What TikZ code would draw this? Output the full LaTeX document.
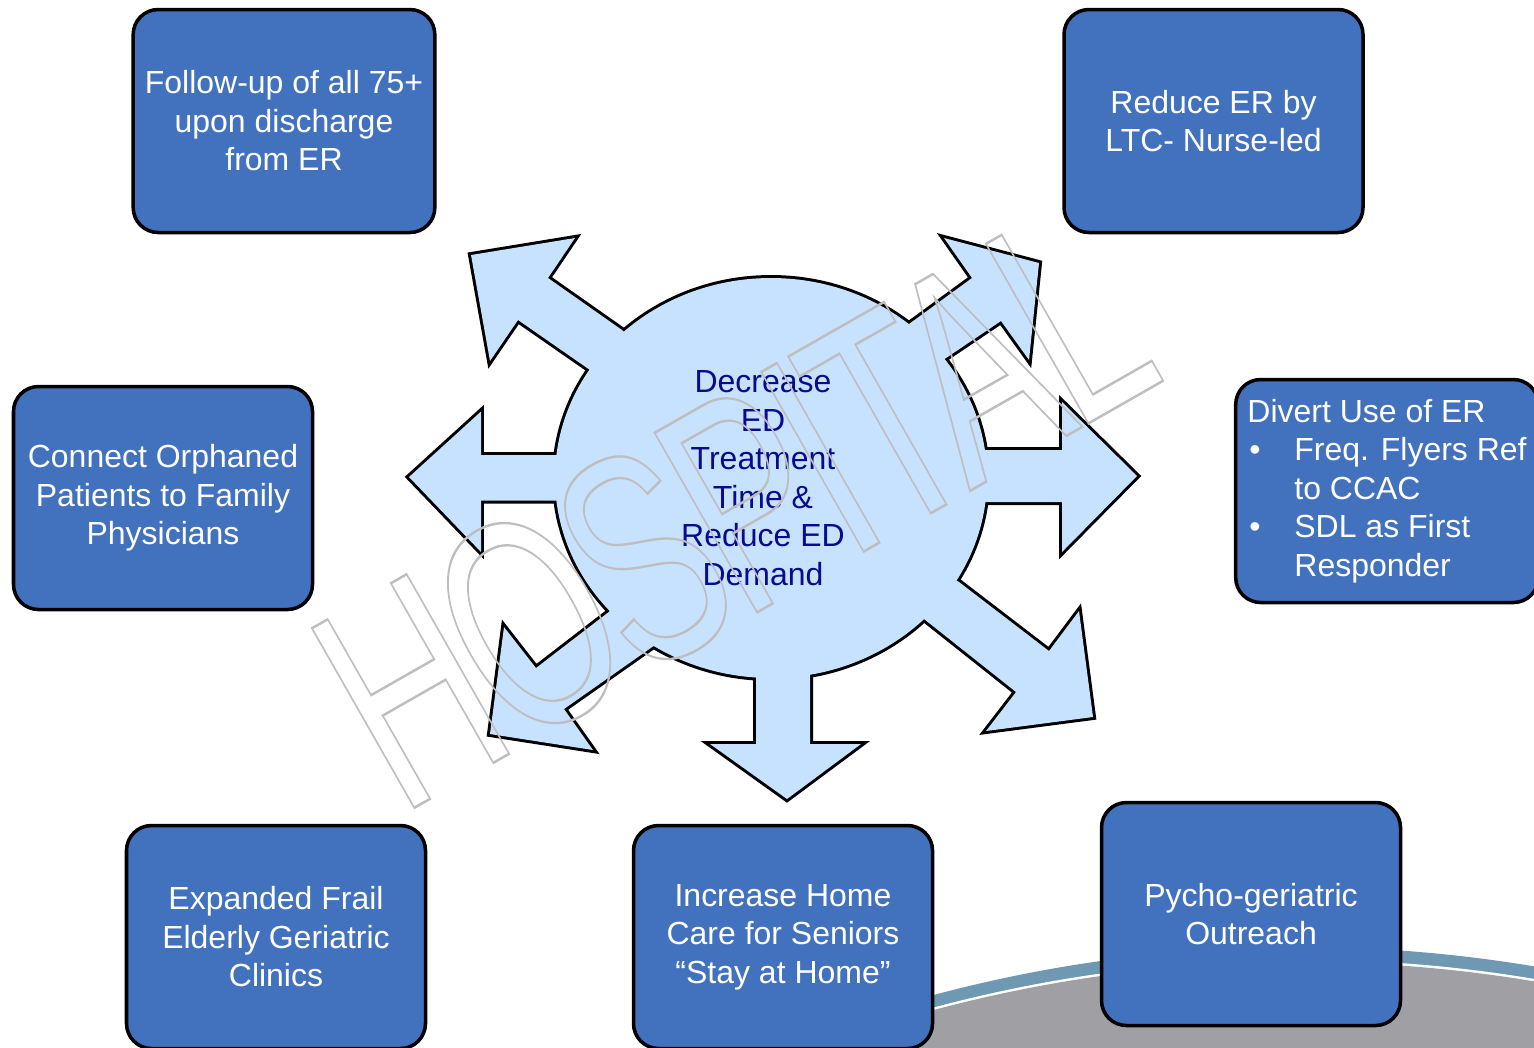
\documentclass[tikz,border=0pt]{standalone}
\usepackage{fontspec}
\setmainfont{Liberation Sans}

\definecolor{boxblue}{RGB}{66,114,190}
\definecolor{hubblue}{RGB}{198,226,255}
\definecolor{hubtext}{RGB}{10,10,140}
\definecolor{bandblue}{RGB}{111,152,179}
\definecolor{floorgray}{RGB}{160,160,164}
\definecolor{stampgray}{RGB}{190,190,190}

\newcommand{\itemdot}{\makebox[0.47cm][l]{\hspace{0.02cm}\textbullet}}
\newcommand{\itemgap}{\hspace*{0.47cm}}
% letters drawn as outlines only
\newcommand{\outlinetext}[1]{\special{pdf:literal direct 1 Tr 0.7 w}#1\special{pdf:literal direct 0 Tr}}

% circle with seven arrows, one path per piece
\newcommand{\hubshape}[1]{%
  \path[#1] (7.71,4.78) ellipse [x radius=2.16, y radius=2.00];
  \path[#1] (6.22,3.30) -- (5.48,2.78) -- (5.75,2.38) -- (4.71,2.55) -- (4.90,3.61) -- (5.18,3.20) -- (5.90,3.70) -- (7.71,4.78) -- cycle;
  \path[#1] (9.09,3.24) -- (9.72,2.78) -- (9.44,2.38) -- (10.39,2.63) -- (10.29,3.60) -- (10.01,3.21) -- (9.46,3.58) -- (7.71,4.78) -- cycle;
  \path[#1] (6.00,4.55) -- (4.81,4.55) -- (4.81,4.115) -- (4.09,4.77) -- (4.81,5.52) -- (4.81,5.005) -- (6.00,5.005) -- cycle;
  \path[#1] (9.50,4.50) -- (10.62,4.50) -- (10.62,4.02) -- (11.37,4.76) -- (10.62,5.52) -- (10.62,5.02) -- (9.50,5.02) -- cycle;
  \path[#1] (7.56,6.50) -- (7.56,7.44) -- (7.10,7.44) -- (7.87,7.99) -- (8.61,7.44) -- (8.10,7.44) -- (8.10,6.50) -- cycle;
  \path[#1] (9.59,5.82) -- (10.49,6.51) -- (10.79,6.11) -- (10.93,7.17) -- (9.86,7.31) -- (10.16,6.92) -- (9.24,6.19) -- (7.71,4.78) -- cycle;
  \path[#1] (6.10,6.11) -- (5.36,6.68) -- (5.04,6.27) -- (4.90,7.34) -- (5.93,7.50) -- (5.64,7.09) -- (6.55,6.45) -- (7.71,4.78) -- cycle;
}

\begin{document}
\begin{tikzpicture}[x=1cm, y=-1cm,
    main node/.style={rectangle, rounded corners=0.25cm, draw=black, line width=1pt,
      fill=boxblue, text=white, minimum width=2.99cm, minimum height=2.23cm,
      align=center, font=\fontsize{9.1}{10.95}\selectfont}]

  \fill[white] (0,0) rectangle (15.34,10.47);
  \useasboundingbox (0,0) rectangle (15.34,10.47);

  % floor in the lower right
  \fill[bandblue] (13.00,25.44) ellipse [x radius=15.00, y radius=15.97];
  \fill[white] (13.00,25.565) ellipse [x radius=15.00, y radius=15.97];
  \fill[floorgray] (13.00,25.59) ellipse [x radius=15.00, y radius=15.97];

  \node[main node] (1) at (2.84, 1.21) {Follow-up of all 75+\\upon discharge\\from ER};
  \node[main node] (2) at (12.135, 1.21) {Reduce ER by\\LTC- Nurse-led};
  \node[main node] (3) at (1.63, 4.98) {Connect Orphaned\\Patients to Family\\Physicians};
  \node[main node, align=left] (4) at (13.87, 4.91)
    {Divert Use of ER\\\itemdot Freq. Flyers Ref\\\itemgap to CCAC\\\itemdot SDL as First\\\itemgap Responder};
  \node[main node] (5) at (2.76, 9.37) {Expanded Frail\\Elderly Geriatric\\Clinics};
  \node[main node] (6) at (7.83, 9.37) {Increase Home\\Care for Seniors\\``Stay at Home''};
  \node[main node] (7) at (12.51, 9.14) {Pycho-geriatric\\Outreach};

  \hubshape{draw=black, line width=1.7pt}
  \hubshape{fill=hubblue}

  \node[align=center, text=hubtext, font=\fontsize{9.1}{10.95}\selectfont] (0) at (7.63, 4.78)
    {Decrease\\ED\\Treatment\\Time \&\\Reduce ED\\Demand};

  \node[anchor=base west, inner sep=0, rotate=29.7, xscale=0.65, transform shape, text=stampgray,
    font=\fontsize{85.5}{90}\selectfont\addfontfeatures{LetterSpace=-4.9}] (stamp) at (4.00, 8.16)
    {\outlinetext{HOSPITAL}};

\end{tikzpicture}
\end{document}
